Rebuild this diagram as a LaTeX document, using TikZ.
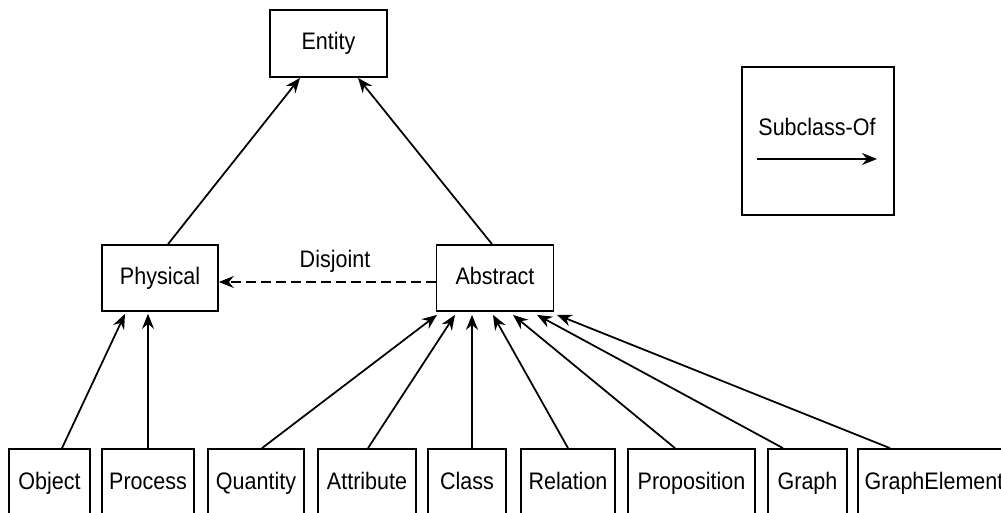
\documentclass[tikz,border=0pt]{standalone}
\usepackage{fontspec}
\setmainfont{Liberation Sans}[FakeStretch=0.9]
\usetikzlibrary{arrows.meta,calc}
\begin{document}
\begin{tikzpicture}[x=0.02cm,y=-0.02cm,
	every node/.style={font=\fontsize{13.6pt}{16pt}\selectfont},
	box/.style={draw,line width=1pt,inner sep=0pt,minimum height=1.32cm,text height=10pt,text depth=3pt},
	leaf/.style={box,minimum height=1.36cm},
	isa/.style={line width=1pt,-{Stealth[length=0.3cm,width=0.24cm,inset=0.1cm]}}]
	\useasboundingbox (0,0) rectangle (1001,513);
	\clip (0,0) rectangle (1001,513);
	\node[box,minimum width=2.34cm,minimum height=1.34cm] (entity) at (328.5,43.5) {Entity};
	\node[box,minimum width=2.32cm] (physical) at (160,278) {Physical};
	\node[box,minimum width=2.34cm] (abstract) at (495,278) {Abstract};
	\node[box,minimum width=3.04cm,minimum height=2.96cm] (legend) at (818,141) {};
	\node (sublabel) at (817,127) {Subclass-Of};
	\coordinate (subfrom) at (757,159);
	\coordinate (subto) at (877,159);
	\draw[isa] (subfrom) -- (subto);
	\node[leaf,minimum width=1.62cm] (object) at (49.5,483) {Object};
	\node[leaf,minimum width=1.84cm] (process) at (148,483) {Process};
	\node[leaf,minimum width=1.92cm] (quantity) at (256,483) {Quantity};
	\node[leaf,minimum width=1.96cm] (attribute) at (367,483) {Attribute};
	\node[leaf,minimum width=1.56cm] (class) at (467,483) {Class};
	\node[leaf,minimum width=1.88cm] (relation) at (568,483) {Relation};
	\node[leaf,minimum width=2.54cm] (proposition) at (691.5,483) {Proposition};
	\node[leaf,minimum width=1.58cm] (graph) at (807.5,483) {Graph};
	\node[leaf,minimum width=3.04cm] (graphelement) at (934,483) {GraphElement};
	\draw[isa] ($(physical.north)+(8,0)$) -- ($(entity.south)+(-28.5,0)$);
	\draw[isa] ($(abstract.north)+(-3,0)$) -- ($(entity.south)+(29.5,0)$);
	\draw[isa,dash pattern=on 0.2cm off 0.1cm] ($(abstract.west)+(0,4)$) -- ($(physical.east)+(0,4)$);
	\node (disjoint) at (335,261) {Disjoint};
	\draw[isa] ($(object.north)+(12.5,0)$) -- ($(physical.south)+(-35,2)$);
	\draw[isa] (process.north) -- ($(physical.south)+(-12,2)$);
	\draw[isa] ($(quantity.north)+(6,0)$) -- ($(abstract.south)+(-58,3)$);
	\draw[isa] ($(attribute.north)+(1,0)$) -- ($(abstract.south)+(-40,3)$);
	\draw[isa] ($(class.north)+(5,0)$) -- ($(abstract.south)+(-23,3)$);
	\draw[isa] (relation.north) -- ($(abstract.south)+(-2,3)$);
	\draw[isa] ($(proposition.north)+(-16.5,0)$) -- ($(abstract.south)+(18,3)$);
	\draw[isa] ($(graph.north)+(-24.5,0)$) -- ($(abstract.south)+(42,3)$);
	\draw[isa] ($(graphelement.north)+(-44,0)$) -- ($(abstract.south)+(62,3)$);
\end{tikzpicture}
\end{document}
